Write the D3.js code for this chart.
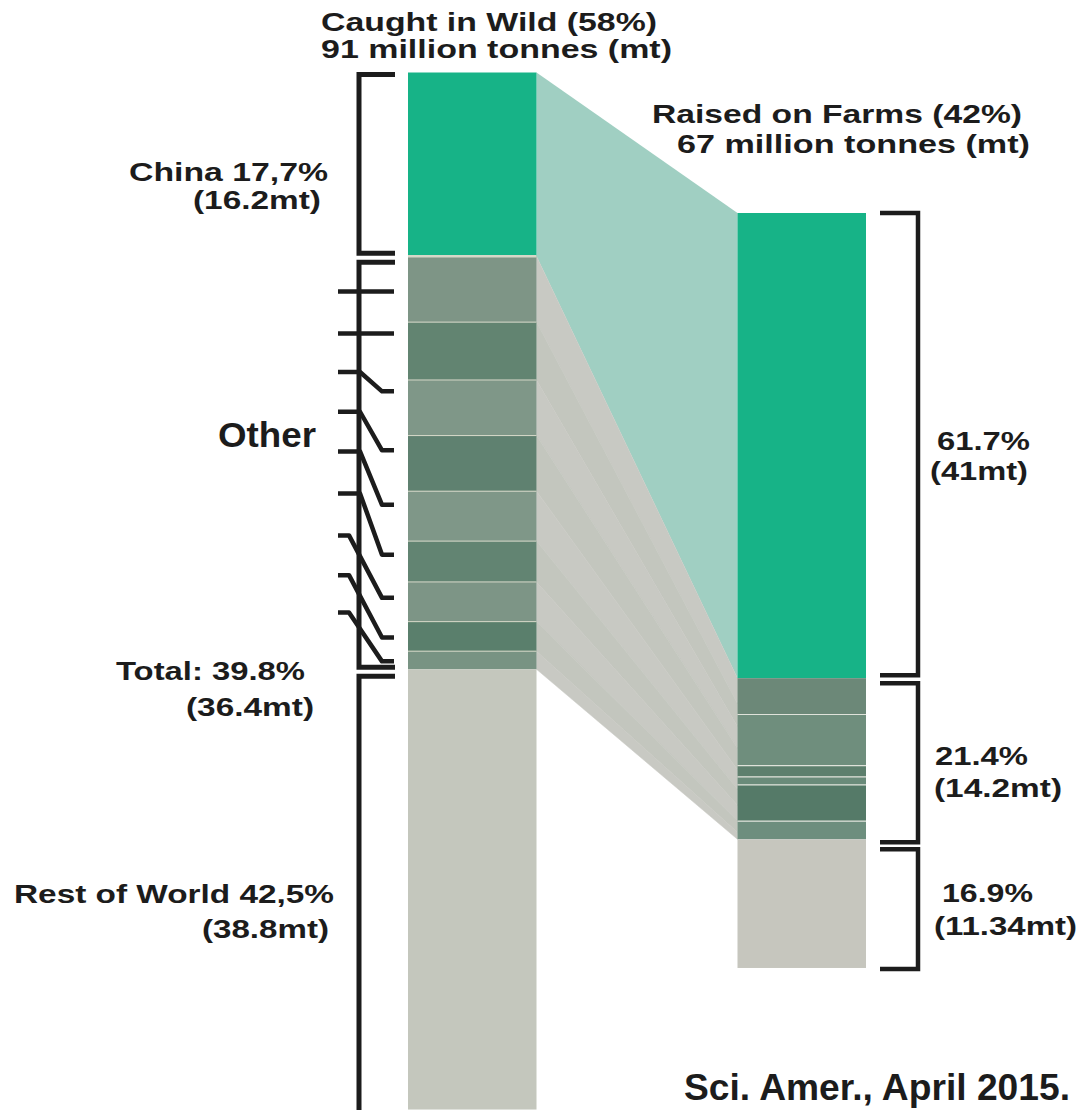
<!DOCTYPE html>
<html>
<head>
<meta charset="utf-8">
<script src="https://cdn.jsdelivr.net/npm/d3@7"></script>
<style>
  body { margin: 0; background: #fff; }
  text { font-family: "Liberation Sans", Arial, sans-serif; font-weight: bold; fill: #1c1c1c; }
</style>
</head>
<body>
<div id="chart"></div>
<script>
// data (million tonnes)
var sources      = ["Caught in Wild", "Raised on Farms"];
var sourceTotals = [91, 67];
var sourceShares = [58, 42];

var wildGroups = ["China", "Other", "Rest of World"];
var wildValues = [16.2, 36.4, 38.8];
var wildShares = ["17,7", "39.8", "42,5"];
var wildOther  = [5.8, 5.1, 4.9, 4.9, 4.4, 3.6, 3.5, 2.6, 1.6];

var farmGroups = ["China", "Other", "Rest of World"];
var farmValues = [41, 14.2, 11.34];
var farmShares = ["61.7", "21.4", "16.9"];
var farmOther  = [3.2, 4.5, 1.0, 0.7, 3.2, 1.6];

// hand drawn ticks on the "Other" bracket, [left end, right end] in mt from top of wild bar
var otherTicks = [[19.3, 19.3], [23, 23], [26.4, 28.1], [29.9, 33.3], [33.4, 38.1],
                  [37.1, 42.5], [40.8, 46.3], [44.3, 49.8], [47.6, 51.9]];

var width = 1082, height = 1110;

var svg = d3.select("#chart").append("svg")
    .attr("width", width)
    .attr("height", height);

var x = d3.scaleBand().domain(sources).range([408, 866]).paddingInner(0.61);
var pxPerMt = (1105 - 72.5) / 91;
var yL = d3.scaleLinear().domain([0, 91]).range([72.5, 1105]);
var yR = d3.scaleLinear().domain([0, 91]).range([213, 213 + 91 * pxPerMt]);

var green = "#17b387", teal = "#a0cfc2", grayFlow = "#c8c9c3", rest = "#c4c7bd";
var otherL = ["#7e9586", "#628471", "#7f9788", "#5f8170", "#7f9788", "#628472", "#7d9586", "#5a7f6c", "#789383"];
var otherR = ["#6c8878", "#6f8e7d", "#5d7f6d", "#6a8b7a", "#557a68", "#6d8e7e"];

function cum(arr) {
  var s = 0;
  return arr.map(function(v) { var a = s; s += v; return [a, s]; });
}
var wildStack  = cum(wildValues);
var farmStack  = cum(farmValues);
var wildOtherStack = cum(wildOther).map(function(d) { return [d[0] + wildStack[1][0], d[1] + wildStack[1][0]]; });
var farmOtherStack = cum(farmOther).map(function(d) { return [d[0] + farmStack[1][0], d[1] + farmStack[1][0]]; });

var xL1 = x(sources[0]) + x.bandwidth(), xR0 = x(sources[1]);

// flows
function band(l0, l1, r0, r1) {
  return "M" + xL1 + "," + yL(l0) + "L" + xR0 + "," + yR(r0) +
         "L" + xR0 + "," + yR(r1) + "L" + xL1 + "," + yL(l1) + "Z";
}
svg.append("path")
    .attr("d", band(wildStack[0][0], wildStack[0][1], farmStack[0][0], farmStack[0][1]))
    .attr("fill", teal);

// each country of "Other" flows into its share of the farmed "Other" block
var fo0 = farmStack[1][0], fo1 = farmStack[1][1];
var kR = (fo1 - fo0) / wildValues[1];
svg.selectAll(".strip").data(wildOtherStack).enter().append("path")
    .attr("class", "strip")
    .attr("d", function(d) {
      return band(d[0], d[1], fo0 + (d[0] - wildStack[1][0]) * kR, fo0 + (d[1] - wildStack[1][0]) * kR);
    })
    .attr("fill", function(d, i) { return i % 2 ? "#c3c6be" : grayFlow; })
    .attr("stroke", function(d, i) { return i % 2 ? "#c3c6be" : grayFlow; })
    .attr("stroke-width", 0.5);

// wild bar
var bw = x.bandwidth();
svg.append("rect")
    .attr("x", x(sources[0])).attr("width", bw)
    .attr("y", yL(wildStack[0][0])).attr("height", yL(wildStack[0][1]) - yL(wildStack[0][0]))
    .attr("fill", green);
svg.selectAll(".wo").data(wildOtherStack).enter().append("rect")
    .attr("class", "wo")
    .attr("x", x(sources[0])).attr("width", bw)
    .attr("y", function(d) { return yL(d[0]); })
    .attr("height", function(d) { return yL(d[1]) - yL(d[0]); })
    .attr("fill", function(d, i) { return otherL[i]; });
svg.append("rect")
    .attr("x", x(sources[0])).attr("width", bw)
    .attr("y", yL(wildStack[2][0])).attr("height", yL(wildStack[2][1]) - yL(wildStack[2][0]))
    .attr("fill", rest);
svg.selectAll(".wsep").data(wildOtherStack).enter().append("line")
    .attr("class", "wsep")
    .attr("x1", x(sources[0])).attr("x2", xL1)
    .attr("y1", function(d) { return yL(d[0]); })
    .attr("y2", function(d) { return yL(d[0]); })
    .attr("stroke", "#d6d8c8").attr("stroke-width", function(d, i) { return i ? 1 : 2.5; });

// farm bar
svg.append("rect")
    .attr("x", xR0).attr("width", bw)
    .attr("y", yR(farmStack[0][0])).attr("height", yR(farmStack[0][1]) - yR(farmStack[0][0]))
    .attr("fill", green);
svg.selectAll(".fo").data(farmOtherStack).enter().append("rect")
    .attr("class", "fo")
    .attr("x", xR0).attr("width", bw)
    .attr("y", function(d) { return yR(d[0]); })
    .attr("height", function(d) { return yR(d[1]) - yR(d[0]); })
    .attr("fill", function(d, i) { return otherR[i]; });
svg.append("rect")
    .attr("x", xR0).attr("width", bw)
    .attr("y", yR(farmStack[2][0])).attr("height", yR(farmStack[2][1]) - yR(farmStack[2][0]))
    .attr("fill", "#c6c6be");
svg.selectAll(".fsep").data(farmOtherStack.slice(1)).enter().append("line")
    .attr("class", "fsep")
    .attr("x1", xR0).attr("x2", xR0 + bw)
    .attr("y1", function(d) { return yR(d[0]); })
    .attr("y2", function(d) { return yR(d[0]); })
    .attr("stroke", "#dfe2da").attr("stroke-width", 1.2);

// brackets
var ink = "#1c1c1c";
function bracketL(y0, y1) {
  var xv = 359, xt = 395;
  svg.append("path")
      .attr("d", "M" + xt + "," + y0 + "H" + xv + "V" + y1 + "H" + xt)
      .attr("fill", "none").attr("stroke", ink).attr("stroke-width", 5);
}
function bracketR(y0, y1) {
  var xv = 918, xt = 880;
  svg.append("path")
      .attr("d", "M" + xt + "," + y0 + "H" + xv + "V" + y1 + "H" + xt)
      .attr("fill", "none").attr("stroke", ink).attr("stroke-width", 4.5);
}
bracketL(yL(wildStack[0][0]) + 2, yL(wildStack[0][1]) - 3);
bracketL(yL(wildStack[1][0]) + 6, yL(wildStack[1][1]) - 2);
bracketL(yL(wildStack[2][0]) + 7, yL(wildStack[2][1]) + 6);
bracketR(yR(farmStack[0][0]), yR(farmStack[0][1]) - 3);
bracketR(yR(farmStack[1][0]) + 5, yR(farmStack[1][1]) + 3);
bracketR(yR(farmStack[2][0]) + 10, yR(farmStack[2][1]) + 1);

svg.selectAll(".otick").data(otherTicks).enter().append("path")
    .attr("class", "otick")
    .attr("d", function(d) {
      var a = yL(d[0]), b = yL(d[1]);
      if (a === b) return "M338," + a + "H394";
      var k = d[0] > 40 ? 349 : 360;
      return "M338," + a + "H" + k + "L382," + b + "H394";
    })
    .attr("fill", "none").attr("stroke", ink).attr("stroke-width", 4.5)
    .attr("stroke-linejoin", "round");

// labels
function label(str, lx, by, size, w) {
  svg.append("text")
      .attr("x", lx).attr("y", by)
      .attr("font-size", size)
      .attr("textLength", w).attr("lengthAdjust", "spacingAndGlyphs")
      .text(str);
}
label(sources[0] + " (" + sourceShares[0] + "%)", 321, 31, 25, 336);
label(sourceTotals[0] + " million tonnes (mt)", 321, 58, 25, 351);
label(sources[1] + " (" + sourceShares[1] + "%)", 652, 123, 25, 370);
label(sourceTotals[1] + " million tonnes (mt)", 677, 153, 25, 353);

label(wildGroups[0] + " " + wildShares[0] + "%", 129, 181, 25, 199);
label("(" + wildValues[0] + "mt)", 193, 209, 25, 128);
label(wildGroups[1], 218, 447, 35, 98);
label("Total: " + wildShares[1] + "%", 116, 680, 26, 189);
label("(" + wildValues[1] + "mt)", 186, 716, 26, 128);
label(wildGroups[2] + " " + wildShares[2] + "%", 14, 903, 26, 320);
label("(" + wildValues[2] + "mt)", 202, 938, 26, 127);

label(farmShares[0] + "%", 937, 450, 26, 93);
label("(" + farmValues[0] + "mt)", 930, 480, 26, 98);
label(farmShares[1] + "%", 935, 765, 26, 93);
label("(" + farmValues[1] + "mt)", 934, 797, 26, 128);
label(farmShares[2] + "%", 942, 902, 26, 91);
label("(" + farmValues[2] + "mt)", 934, 935, 26, 143);

label("Sci. Amer., April 2015.", 684, 1100, 36, 386);
</script>
</body>
</html>
